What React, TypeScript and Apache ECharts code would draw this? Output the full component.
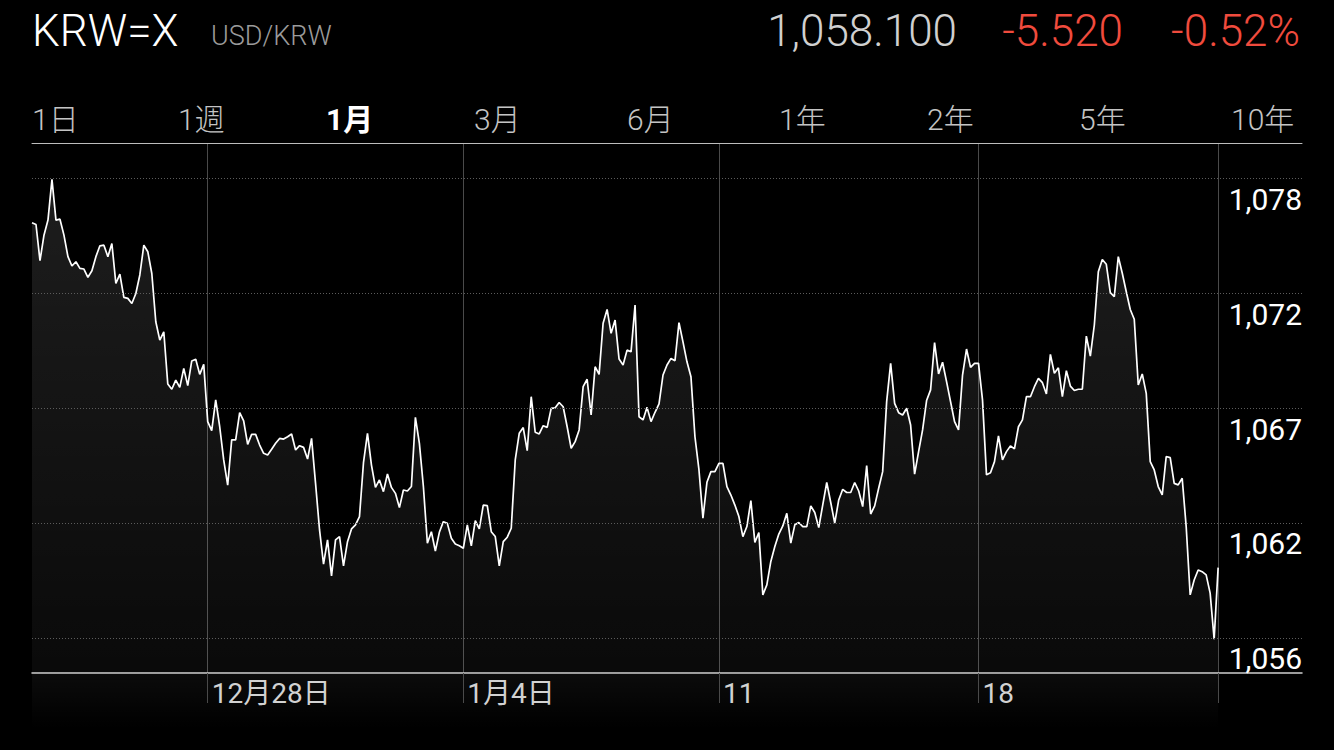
import React, { useEffect, useRef } from "react";
import * as echarts from "echarts";

// ---- data (USD/KRW, 1 month) ----
const pricesDec23 = [
  1075.6, 1075.52, 1073.82, 1075.02, 1075.73, 1077.64, 1075.73, 1075.77, 1075.02, 1074.01,
  1073.57, 1073.77, 1073.46, 1073.43, 1073.04, 1073.35, 1074.01, 1074.52, 1074.55, 1074.01,
  1074.63, 1072.75, 1073.19, 1072.1, 1072.05, 1071.81, 1072.28, 1073.15, 1074.55, 1074.24,
  1073.22, 1070.95, 1070.09, 1070.48, 1068.03, 1067.78, 1068.21, 1067.87, 1068.76, 1067.95,
  1069.11, 1069.19, 1068.48, 1068.95,
];
const pricesDec28 = [
  1066.26, 1065.84, 1067.28, 1066.02, 1064.46, 1063.28, 1065.4, 1065.4, 1066.68, 1066.29,
  1065.19, 1065.66, 1065.66, 1065.16, 1064.77, 1064.69, 1064.96, 1065.24, 1065.47, 1065.44,
  1065.55, 1065.68, 1064.93, 1065.13, 1065.05, 1064.5, 1065.47, 1063.36, 1061.17, 1059.56,
  1060.7, 1059.01, 1060.7, 1060.86, 1059.48, 1060.62, 1061.22, 1061.41, 1061.8, 1064.33,
  1065.71, 1064.22, 1063.17, 1063.52, 1062.97, 1063.8, 1063.17, 1062.89, 1062.22, 1063.05,
  1063.0, 1063.21, 1066.46, 1065.24, 1063.21, 1060.55, 1061.09, 1060.18, 1061.06, 1061.56,
  1061.48, 1060.78, 1060.51, 1060.43,
];
const pricesJan04 = [
  1060.31, 1061.41, 1060.42, 1061.61, 1061.22, 1062.34, 1062.31, 1061.09, 1060.86, 1059.48,
  1060.62, 1060.83, 1061.25, 1064.46, 1065.71, 1065.98, 1064.9, 1067.43, 1065.76, 1065.68,
  1066.07, 1065.99, 1066.88, 1066.91, 1067.16, 1066.96, 1066.02, 1065.01, 1065.32, 1065.87,
  1067.9, 1068.25, 1066.57, 1068.84, 1068.48, 1070.88, 1071.53, 1070.41, 1071.03, 1069.2,
  1068.92, 1069.62, 1069.54, 1071.74, 1066.49, 1066.34, 1066.93, 1066.26, 1066.7, 1067.09,
  1068.45, 1068.92, 1069.23, 1069.12, 1070.91, 1070.01, 1069.07, 1068.37, 1065.55, 1064.0,
  1061.72, 1063.41, 1063.91, 1063.91,
];
const pricesJan11 = [
  1064.3, 1064.3, 1063.21, 1062.81, 1062.34, 1061.8, 1060.86, 1061.33, 1062.55, 1060.59,
  1061.05, 1058.12, 1058.59, 1059.69, 1060.39, 1060.98, 1061.36, 1061.95, 1060.55, 1061.41,
  1061.52, 1061.33, 1061.33, 1062.3, 1061.99, 1061.28, 1062.35, 1063.4, 1062.46, 1061.49,
  1062.58, 1063.08, 1062.93, 1062.93, 1063.4, 1063.0, 1062.27, 1064.19, 1061.92, 1062.3,
  1063.13, 1063.91, 1067.2, 1069.0, 1067.12, 1066.68, 1066.57, 1066.89, 1066.1, 1063.79,
  1064.85, 1065.87, 1067.25, 1067.75, 1069.97, 1068.5, 1069.05, 1068.14, 1067.2, 1066.26,
  1065.87, 1068.45, 1069.67, 1068.81, 1069.0,
];
const pricesJan18 = [
  1069.0, 1067.28, 1063.76, 1063.86, 1064.38, 1065.59, 1064.46, 1064.85, 1065.12, 1064.98,
  1066.02, 1066.34, 1067.43, 1067.43, 1067.9, 1068.29, 1068.09, 1067.56, 1069.42, 1068.53,
  1068.79, 1067.43, 1068.65, 1067.93, 1067.72, 1067.78, 1067.79, 1070.28, 1069.34, 1070.8,
  1073.3, 1073.88, 1073.65, 1072.32, 1072.13, 1074.01, 1073.23, 1072.36, 1071.53, 1071.07,
  1067.98, 1068.5, 1067.59, 1064.38, 1063.99, 1063.21, 1062.82, 1064.62, 1064.57, 1063.36,
  1063.29, 1063.6, 1061.33, 1058.12, 1058.82, 1059.29, 1059.21, 1059.06, 1058.2, 1056.04,
  1059.4,
];

const prices = [...pricesDec23, ...pricesDec28, ...pricesJan04, ...pricesJan11, ...pricesJan18];
const slotCount = 319; // time slots covered by the x axis (data + empty space to the right)
const categories = Array.from({ length: slotCount }, (_, i) => String(i));
const seriesData = categories.map((_, i) => (i < prices.length ? prices[i] : null));
const nowIndex = prices.length - 1;

const xTickIndex = [44, 108, 172, 237];
const xTickLabels = ["12月28日", "1月4日", "11", "18"];

const yTicks = [1056.1, 1061.5, 1066.9, 1072.3, 1077.7];
const yMin = 1054.45;
const yMax = 1079.35;

const tabLabels = ["1日", "1週", "1月", "3月", "6月", "1年", "2年", "5年", "10年"];
const tabLefts = [32, 178, 326, 474, 627, 779, 927, 1079, 1231];
const activeTab = "1月";

const symbolName = "KRW=X";
const pairName = "USD/KRW";
const lastPrice = "1,058.100";
const changeAbs = "-5.520";
const changePct = "-0.52%";

const FONT = "Roboto, 'Noto Sans CJK JP', sans-serif";
const RED = "#f04b3d";

function txt(
  x: number,
  y: number,
  text: string,
  size: number,
  fill: string,
  align: string = "left",
  weight: string | number = 300,
  spacing: number = 0
) {
  return {
    type: "text",
    x,
    y,
    silent: true,
    style: {
      text,
      fill,
      fontSize: size,
      fontFamily: FONT,
      fontWeight: weight,
      align,
      verticalAlign: "middle",
      textAlign: align,
      textVerticalAlign: "middle",
      letterSpacing: spacing,
    },
  };
}

export default function App() {
  const ref = useRef<HTMLDivElement>(null);

  useEffect(() => {
    if (!ref.current) return;
    const chart = echarts.init(ref.current, undefined, { renderer: "svg" });

    const tickShown = (i: number) => xTickIndex.includes(i) || i === nowIndex;

    const headerGraphics: any[] = [
      txt(32, 31, symbolName, 44, "#ffffff", "left", 300),
      txt(211, 36, pairName, 27, "#9b9b9b", "left", 300),
      txt(957, 31, lastPrice, 44, "#d0d0d0", "right", 300, 0.5),
      txt(1123, 31, changeAbs, 44, RED, "right", 300, 2),
      txt(1300, 31, changePct, 44, RED, "right", 300, 2),
      ...tabLabels.map((t, i) =>
        txt(
          tabLefts[i],
          119,
          t,
          30,
          t === activeTab ? "#ffffff" : "#c4c4c4",
          "left",
          t === activeTab ? "bold" : 300
        )
      ),
    ];

    chart.setOption({
      animation: false,
      backgroundColor: "#000000",
      grid: { left: 32, right: 32, top: 143, bottom: 77, containLabel: false },
      xAxis: [
        {
          type: "category",
          data: categories,
          boundaryGap: false,
          axisLine: { show: true, onZero: false, lineStyle: { color: "#cfcfcf", width: 1.5 } },
          axisTick: {
            show: true,
            interval: (i: number) => tickShown(i),
            length: 30,
            inside: false,
            lineStyle: { color: "#4a4a4a", width: 1 },
          },
          splitLine: {
            show: true,
            interval: (i: number) => tickShown(i),
            lineStyle: { color: "#4a4a4a", width: 1 },
          },
          axisLabel: {
            show: true,
            interval: (i: number) => xTickIndex.includes(i),
            formatter: (_v: string, i: number) => {
              const k = xTickIndex.indexOf(i);
              return k >= 0 ? xTickLabels[k] : "";
            },
            color: "#d2d2d2",
            fontSize: 28,
            fontFamily: FONT,
            fontWeight: 400,
            align: "left",
            margin: 6,
            padding: [0, 0, 0, 4],
          },
        },
        {
          type: "category",
          data: categories,
          position: "top",
          boundaryGap: false,
          axisLine: { show: true, onZero: false, lineStyle: { color: "#bdbdbd", width: 1 } },
          axisTick: { show: false },
          axisLabel: { show: false },
          splitLine: { show: false },
        },
      ],
      yAxis: {
        type: "value",
        min: yMin,
        max: yMax,
        axisLine: { show: false },
        axisTick: { show: false },
        axisLabel: { show: false },
        splitLine: { show: false },
      },
      series: [
        {
          type: "line",
          data: seriesData,
          showSymbol: false,
          symbol: "none",
          connectNulls: false,
          lineStyle: { color: "#ffffff", width: 1.7 },
          areaStyle: {
            origin: "start",
            color: new echarts.graphic.LinearGradient(0, 0, 0, 1, [
              { offset: 0, color: "rgba(255,255,255,0.165)" },
              { offset: 1, color: "rgba(255,255,255,0.055)" },
            ]),
          },
          silent: true,
          markLine: {
            silent: true,
            symbol: ["none", "none"],
            animation: false,
            lineStyle: { color: "#5c5c5c", width: 1, type: [1, 2] },
            label: {
              show: true,
              position: "insideEndBottom",
              distance: [0, 6],
              color: "#ffffff",
              fontSize: 30,
              fontFamily: FONT,
              fontWeight: 400,
              formatter: (p: any) => Math.round(p.value).toLocaleString("en-US"),
            },
            emphasis: { disabled: true },
            data: yTicks.map((v) => ({ yAxis: v })),
          },
        },
      ],
      graphic: headerGraphics,
    });

    // faint continuation of the area fill below the axis line
    const x0 = chart.convertToPixel({ xAxisIndex: 0 }, 0) as number;
    const x1 = chart.convertToPixel({ xAxisIndex: 0 }, nowIndex) as number;
    const y0 = chart.convertToPixel({ yAxisIndex: 0 }, yMin) as number;
    chart.setOption({
      graphic: [
        ...headerGraphics,
        {
          type: "rect",
          id: "underfill",
          silent: true,
          z: -1,
          shape: { x: x0, y: y0 + 1, width: x1 - x0, height: 55 },
          style: {
            fill: new echarts.graphic.LinearGradient(0, 0, 0, 1, [
              { offset: 0, color: "rgba(255,255,255,0.045)" },
              { offset: 1, color: "rgba(255,255,255,0)" },
            ]),
          },
        },
      ],
    });

    return () => chart.dispose();
  }, []);

  return (
    <div
      ref={ref}
      style={{ position: "absolute", left: 0, top: 0, width: 1334, height: 750, background: "#000" }}
    />
  );
}
